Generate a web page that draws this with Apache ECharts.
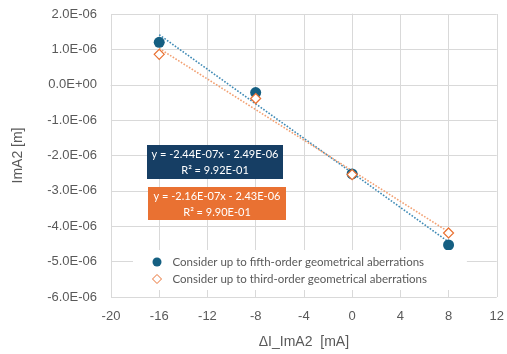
<!DOCTYPE html>
<html><head><meta charset="utf-8">
<script src="https://cdn.jsdelivr.net/npm/echarts@6/dist/echarts.min.js"></script>
<style>html,body{margin:0;padding:0;background:#fff}#c{width:507px;height:354px}</style>
</head><body><div id="c"></div>
<script>
const currents = [-16, -8, 0, 8];
const fifthOrder = [1.20e-6, -0.22e-6, -2.52e-6, -4.53e-6];
const thirdOrder = [0.86e-6, -0.39e-6, -2.54e-6, -4.19e-6];
const seriesNames = ['Consider up to fifth-order geometrical aberrations', 'Consider up to third-order geometrical aberrations'];
const fitFifth = {slope: -2.44e-7, intercept: -2.49e-6, r2: '9.92E-01', eq: 'y = -2.44E-07x - 2.49E-06'};
const fitThird = {slope: -2.16e-7, intercept: -2.43e-6, r2: '9.90E-01', eq: 'y = -2.16E-07x - 2.43E-06'};
const trendRange = [-16, 8];

function fmtE(v) {
  if (Math.abs(v) < 1e-12) return '0.0E+00';
  let s = v.toExponential(1).toUpperCase();
  return s.replace(/E([+-])(\d)$/, 'E$10$2');
}
function pairs(xs, ys) { return xs.map((x, i) => [x, ys[i]]); }
function trend(f) { return trendRange.map(x => [x, f.slope * x + f.intercept]); }

const chart = echarts.init(document.getElementById('c'));
const txt = '#595959';
const grid = '#d9d9d9';
const axFont = '"Liberation Sans", Arial, sans-serif';
const labelStyle = {fill: '#fff', fontSize: 11, lineHeight: 16, align: 'center', verticalAlign: 'top', fontFamily: 'Lato, sans-serif'};
chart.setOption({
  animation: false,
  textStyle: {fontFamily: 'Lato, "Noto Sans", sans-serif'},
  grid: {left: 111, right: 9, top: 14, bottom: 55},
  xAxis: {
    type: 'value', min: -20, max: 12, interval: 4,
    name: 'ΔI_ImA2  [mA]', nameLocation: 'middle', nameGap: 38,
    nameTextStyle: {color: txt, fontSize: 14, fontFamily: axFont},
    axisLine: {show: true, lineStyle: {color: grid}}, axisTick: {show: false},
    axisLabel: {color: txt, fontSize: 13, margin: 13, fontFamily: axFont},
    splitLine: {show: true, lineStyle: {color: grid}}
  },
  yAxis: {
    type: 'value', min: -6e-6, max: 2e-6, interval: 1e-6,
    name: 'ImA2 [m]', nameLocation: 'middle', nameGap: 86,
    nameTextStyle: {color: txt, fontSize: 14, fontFamily: axFont},
    axisLine: {show: true, lineStyle: {color: grid}}, axisTick: {show: false},
    axisLabel: {color: txt, fontSize: 13, margin: 14, formatter: fmtE, fontFamily: axFont},
    splitLine: {show: true, lineStyle: {color: grid}}
  },
  legend: {
    data: [
      {name: seriesNames[0], icon: 'circle', itemStyle: {color: '#156082'}},
      {name: seriesNames[1], icon: 'diamond', itemStyle: {color: '#fff', borderColor: '#e97132', borderWidth: 1}}
    ],
    orient: 'vertical', left: 133, top: 250,
    backgroundColor: '#fff', padding: [6, 40, 5, 19], itemGap: 5,
    itemWidth: 9, itemHeight: 9,
    textStyle: {color: txt, fontSize: 11.5, padding: [0, 0, 0, 6]}
  },
  series: [
    {type: 'line', data: trend(fitFifth), symbol: 'none', silent: true, z: 1,
     lineStyle: {color: '#3f8ab5', width: 1.6, type: 'dotted'}},
    {type: 'line', data: trend(fitThird), symbol: 'none', silent: true, z: 1,
     lineStyle: {color: '#f2a072', width: 1.6, type: 'dotted'}},
    {name: seriesNames[0], type: 'scatter', data: pairs(currents, fifthOrder), symbol: 'circle', symbolSize: 11, z: 3,
     itemStyle: {color: '#155f82', opacity: 1}},
    {name: seriesNames[1], type: 'scatter', data: pairs(currents, thirdOrder), symbol: 'diamond', symbolSize: 10, z: 4,
     itemStyle: {color: '#fff', borderColor: '#e97132', borderWidth: 1.2, opacity: 1}}
  ],
  graphic: [
    {type: 'rect', x: 147, y: 145, shape: {width: 136, height: 34}, style: {fill: '#163e64'}, z: 10},
    {type: 'text', z: 11, x: 215, y: 146, style: Object.assign({text: fitFifth.eq + '\nR² = ' + fitFifth.r2}, labelStyle)},
    {type: 'rect', x: 148, y: 187, shape: {width: 138, height: 33}, style: {fill: '#e97132'}, z: 10},
    {type: 'text', z: 11, x: 217, y: 188, style: Object.assign({text: fitThird.eq + '\nR² = ' + fitThird.r2}, labelStyle)}
  ]
});
</script></body></html>
